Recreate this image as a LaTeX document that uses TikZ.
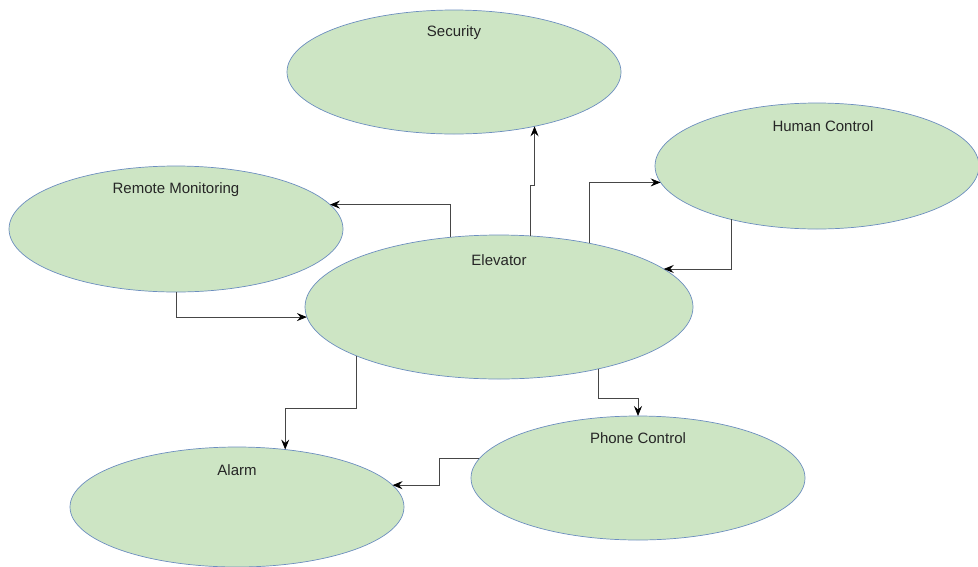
\documentclass[tikz,border=0pt]{standalone}
\usepackage{fontspec}
\setmainfont{Liberation Sans}
\usetikzlibrary{positioning}
\usetikzlibrary{shapes.geometric}
\usetikzlibrary{arrows.meta}
\definecolor{blobfill}{RGB}{205,229,196}
\definecolor{blobline}{RGB}{108,142,191}
\definecolor{linkline}{RGB}{70,70,70}

\begin{document}
\begin{tikzpicture}[x=1pt,y=-1pt,
  blob/.style={ellipse, draw=blobline, fill=blobfill, line width=.7pt, inner sep=0pt, outer sep=0pt},
  lbl/.style={font=\fontsize{15}{18}\selectfont, text=black!85},
  link/.style={-{Stealth[length=10pt,width=8pt,inset=3.5pt,black]}, draw=linkline, line width=.8pt}]
  \useasboundingbox (0,0) rectangle (978,566);

  \node[blob, minimum width=334pt, minimum height=124pt] (sec) at (454,72) {};
  \node[blob, minimum width=324pt, minimum height=126pt] (hum) at (817,166) {};
  \node[blob, minimum width=334pt, minimum height=126pt] (rem) at (176,229) {};
  \node[blob, minimum width=388pt, minimum height=144pt] (elev) at (499,307) {};
  \node[blob, minimum width=334pt, minimum height=124pt] (phone) at (638,478) {};
  \node[blob, minimum width=334pt, minimum height=120pt] (alarm) at (237,507) {};

  \node[lbl](sec_l) at ([yshift=-23pt]sec.north) {Security};
  \node[lbl](hum_l) at ([xshift=6pt,yshift=-23pt]hum.north) {Human Control};
  \node[lbl](rem_l) at ([yshift=-24pt]rem.north) {Remote Monitoring};
  \node[lbl](elev_l) at ([yshift=-25pt]elev.north) {Elevator};
  \node[lbl](phone_l) at ([yshift=-22pt]phone.north) {Phone Control};
  \node[lbl](alarm_l) at ([yshift=-23pt]alarm.north) {Alarm};

  \draw[link] (elev.66.5) -- ++(0,-51) -| (sec.-34.6);
  \draw[link] (elev.125.6) |- (rem.9.7);
  \draw[link] (rem.south) |- (elev.183.9);
  \draw[link] (elev.35.5) |- (hum.186.6);
  \draw[link] (hum.212.7) |- (elev.13);
  \draw[link] (elev.-32.4) -- ++(0,29) -| (phone.north);
  \draw[link] (elev.199.4) -- ++(0,52) -| (alarm.50.8);
  \draw[link] (phone.173.6) -- ++(-40,0) |- (alarm.8.5);
\end{tikzpicture}
\end{document}
